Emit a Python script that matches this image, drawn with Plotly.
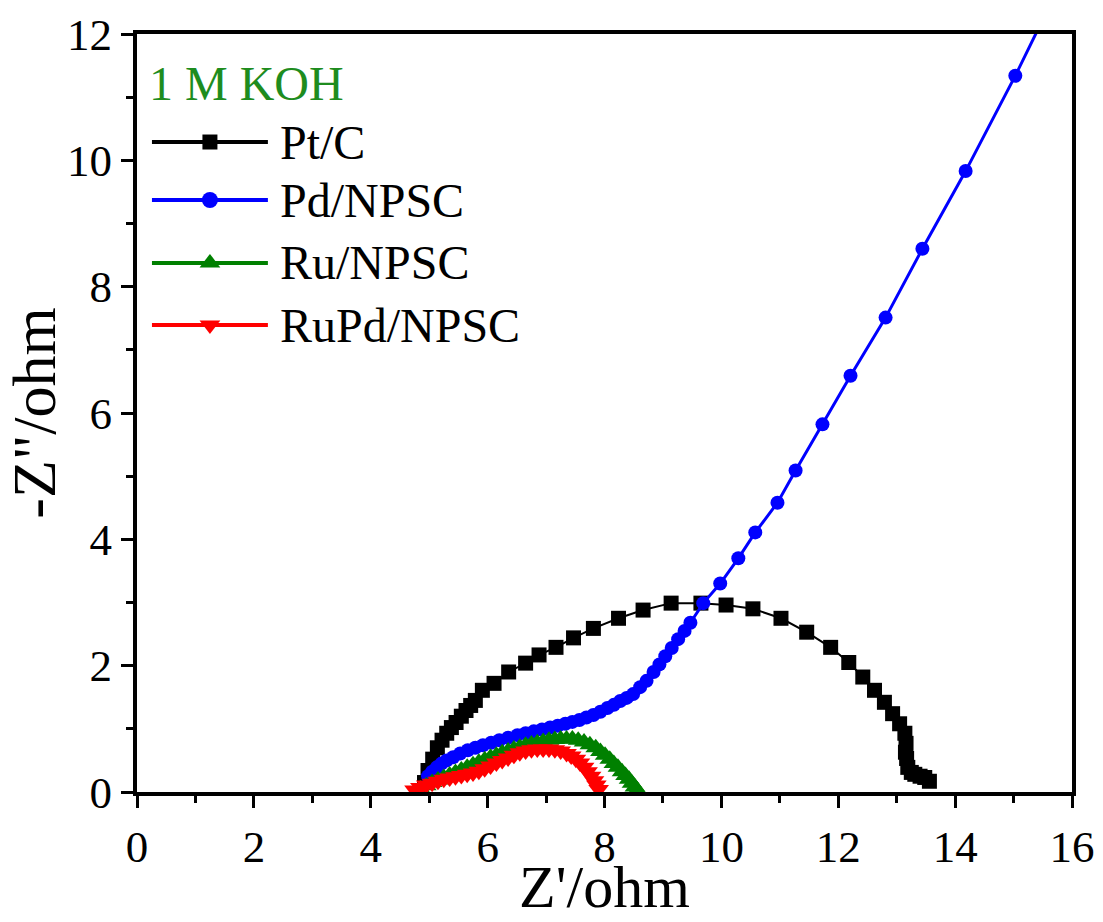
import plotly.graph_objects as go

# ---------------- data ----------------
series_names = ["Pt/C", "Pd/NPSC", "Ru/NPSC", "RuPd/NPSC"]

ptc_x = [4.92, 4.98, 5.06, 5.14, 5.22, 5.30, 5.38, 5.46, 5.55, 5.63, 5.71, 5.79, 5.91, 6.11, 6.36,
         6.65, 6.88, 7.17, 7.47, 7.81, 8.24, 8.66, 9.14, 9.65, 10.08, 10.54, 11.02, 11.46, 11.87,
         12.18, 12.42, 12.62, 12.79, 12.93, 13.05, 13.14, 13.16, 13.15, 13.17, 13.19, 13.25, 13.31,
         13.40, 13.48, 13.56]
ptc_y = [0.15, 0.34, 0.52, 0.70, 0.82, 0.93, 1.02, 1.10, 1.20, 1.29, 1.37, 1.45, 1.61, 1.72, 1.90,
         2.04, 2.17, 2.29, 2.44, 2.59, 2.75, 2.88, 2.99, 2.99, 2.96, 2.90, 2.75, 2.53, 2.29,
         2.05, 1.82, 1.61, 1.42, 1.24, 1.08, 0.93, 0.77, 0.63, 0.53, 0.39, 0.31, 0.28,
         0.25, 0.23, 0.17]

pd_x = [4.98, 5.05, 5.13, 5.21, 5.30, 5.41, 5.53, 5.66, 5.79, 5.92, 6.06, 6.20, 6.35, 6.51, 6.65,
        6.79, 6.93, 7.07, 7.20, 7.33, 7.45, 7.57, 7.69, 7.81, 7.93, 8.05, 8.16, 8.27, 8.38, 8.49,
        8.61, 8.72, 8.84, 8.94, 9.04, 9.15, 9.26, 9.37, 9.47, 9.69, 9.98, 10.29, 10.58, 10.96,
        11.27, 11.73, 12.21, 12.81, 13.44, 14.18, 15.03, 15.85]
pd_y = [0.25, 0.32, 0.39, 0.45, 0.50, 0.55, 0.61, 0.66, 0.70, 0.74, 0.78, 0.82, 0.86, 0.90, 0.93,
        0.96, 0.99, 1.02, 1.05, 1.08, 1.11, 1.14, 1.18, 1.22, 1.27, 1.33, 1.38, 1.44, 1.49, 1.55,
        1.66, 1.76, 1.90, 2.02, 2.15, 2.28, 2.42, 2.55, 2.68, 2.99, 3.30, 3.70, 4.11, 4.58,
        5.09, 5.82, 6.59, 7.51, 8.60, 9.83, 11.34, 12.89]

ru_x = [4.85, 4.95, 5.05, 5.15, 5.25, 5.35, 5.45, 5.55, 5.65, 5.75, 5.85, 5.95, 6.05, 6.15, 6.25,
        6.35, 6.45, 6.55, 6.65, 6.75, 6.85, 6.95, 7.05, 7.15, 7.25, 7.35, 7.45, 7.55, 7.65, 7.75,
        7.85, 7.93, 8.01, 8.09, 8.16, 8.23, 8.30, 8.36, 8.42, 8.47, 8.52, 8.56]
ru_y = [0.05, 0.10, 0.15, 0.19, 0.23, 0.27, 0.31, 0.35, 0.39, 0.43, 0.47, 0.51, 0.55, 0.58, 0.62,
        0.65, 0.68, 0.71, 0.74, 0.76, 0.78, 0.80, 0.82, 0.83, 0.84, 0.84, 0.84, 0.82, 0.79, 0.75,
        0.70, 0.64, 0.58, 0.52, 0.45, 0.39, 0.32, 0.26, 0.20, 0.14, 0.08, 0.03]

rupd_x = [4.75, 4.85, 4.95, 5.05, 5.15, 5.25, 5.35, 5.45, 5.55, 5.65, 5.75, 5.85, 5.95, 6.05, 6.15,
          6.25, 6.35, 6.45, 6.55, 6.65, 6.75, 6.85, 6.95, 7.05, 7.15, 7.25, 7.35, 7.43, 7.51, 7.58,
          7.65, 7.71, 7.77, 7.82, 7.86, 7.90]
rupd_y = [0.03, 0.07, 0.11, 0.14, 0.17, 0.20, 0.22, 0.24, 0.26, 0.28, 0.30, 0.33, 0.37, 0.41, 0.46,
          0.50, 0.54, 0.58, 0.62, 0.65, 0.67, 0.68, 0.68, 0.68, 0.67, 0.65, 0.61, 0.57, 0.52, 0.46,
          0.39, 0.32, 0.25, 0.18, 0.11, 0.04]

x_ticks = [0, 2, 4, 6, 8, 10, 12, 14, 16]
y_ticks = [0, 2, 4, 6, 8, 10, 12]

# ---------------- style ----------------
FONT = "Liberation Serif"
colors = ["#000000", "#0000FF", "#008000", "#FF0000"]
symbols = ["square", "circle", "triangle-up", "triangle-down"]
msizes = [15, 14, 18, 18]
lwidths = [2, 3, 2, 2]
xs = [ptc_x, pd_x, ru_x, rupd_x]
ys = [ptc_y, pd_y, ru_y, rupd_y]

fig = go.Figure()
for name, x, y, c, s, ms, lw in zip(series_names, xs, ys, colors, symbols, msizes, lwidths):
    fig.add_trace(go.Scatter(x=x, y=y, mode="lines+markers", name=name,
                             line=dict(color=c, width=lw),
                             marker=dict(symbol=s, size=ms, color=c, line=dict(width=0)),
                             showlegend=False, cliponaxis=True))

# custom legend (long line samples like the original) on an invisible overlay axis
leg_y = [0.8575, 0.781, 0.698, 0.616]
leg_x0, leg_xm, leg_x1, leg_tx = 0.016, 0.078, 0.140, 0.151
leg_ms = [15, 16, 18, 18]
for name, c, s, ly, lm in zip(series_names, colors, symbols, leg_y, leg_ms):
    fig.add_trace(go.Scatter(x=[leg_x0, leg_x1], y=[ly, ly], mode="lines",
                             line=dict(color=c, width=4), xaxis="x2", yaxis="y2",
                             showlegend=False, hoverinfo="skip"))
    fig.add_trace(go.Scatter(x=[leg_xm], y=[ly], mode="markers",
                             marker=dict(symbol=s, size=lm, color=c), xaxis="x2", yaxis="y2",
                             showlegend=False, hoverinfo="skip"))
    fig.add_annotation(x=leg_tx, y=ly, xref="paper", yref="paper", text=name,
                       showarrow=False, xanchor="left", yanchor="middle",
                       font=dict(family=FONT, size=48, color="black"))

fig.add_annotation(x=0.011, y=0.935, xref="paper", yref="paper", text="1 M KOH",
                   showarrow=False, xanchor="left", yanchor="middle",
                   font=dict(family=FONT, size=48, color="#1E8C1E"))

# x-axis title placed as a bottom-anchored paper annotation
fig.add_annotation(x=0.5, y=-0.171, xref="paper", yref="paper", text="Z'/ohm",
                   showarrow=False, xanchor="center", yanchor="bottom",
                   font=dict(family=FONT, size=60, color="black"))

axis_common = dict(showline=True, linewidth=4, linecolor="black", mirror=True,
                   ticks="outside", ticklen=12, tickwidth=3, tickcolor="black",
                   showgrid=False, zeroline=False, automargin=False,
                   tickfont=dict(family=FONT, size=45, color="black"))

fig.update_layout(
    width=1103, height=922,
    margin=dict(l=137, r=31, t=34, b=130),
    paper_bgcolor="white", plot_bgcolor="white",
    xaxis=dict(range=[0, 16], tickvals=x_ticks,
               minor=dict(ticks="outside", dtick=1, ticklen=7, tickwidth=2.5, tickcolor="black"),
               **axis_common),
    yaxis=dict(range=[0, 12], tickvals=y_ticks,
               minor=dict(ticks="outside", dtick=1, ticklen=7, tickwidth=2.5, tickcolor="black"),
               title=dict(text='-Z"/ohm', font=dict(family=FONT, size=62, color="black"), standoff=8),
               **axis_common),
    xaxis2=dict(overlaying="x", range=[0, 1], visible=False, fixedrange=True),
    yaxis2=dict(overlaying="y", range=[0, 1], visible=False, fixedrange=True),
)

fig.write_html("out.html")
